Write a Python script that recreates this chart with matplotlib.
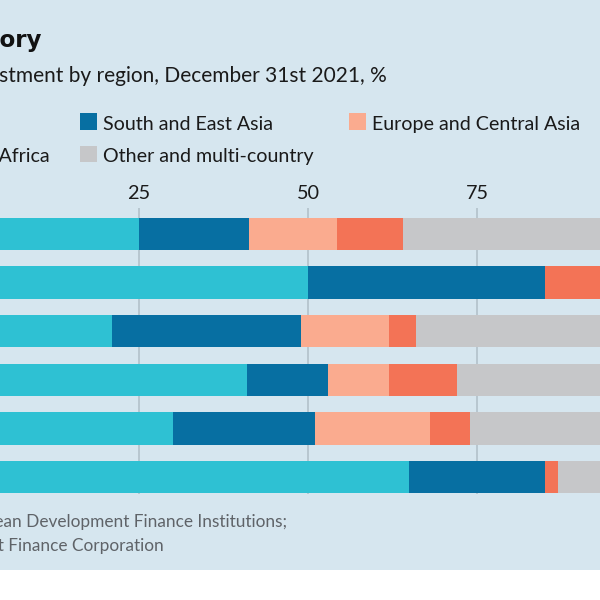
import numpy as np
import matplotlib
matplotlib.use('Agg')
import matplotlib.pyplot as plt
from matplotlib.patches import Rectangle

# share of investment by region, % (rows top to bottom, left part cut off in the original)
regions = ['Sub-Saharan Africa', 'South and East Asia', 'Europe and Central Asia',
           'Middle East and North Africa', 'Other and multi-country']
ssafrica = [25, 50, 21, 41, 30, 65]
seasia = [16.3, 35, 28, 12, 21, 20]
europe = [13, 0, 13, 9, 17, 0]
mena = [9.7, 15, 4, 10, 6, 2]
other = [36, 0, 34, 28, 26, 13]
ticks = [0, 25, 50, 75, 100]

colors = ['#2ec1d3', '#076fa2', '#faab8f', '#f37356', '#c6c7c9']
bg = '#d6e6ef'

plt.rcParams['font.family'] = ['Lato', 'DejaVu Sans']

fig = plt.figure(figsize=(6, 6), dpi=100, facecolor=bg)

def px(x, y):
    # pixel position -> figure fraction
    return x / 600, 1 - y / 600

# axes extend past both edges, like the cropped original
ax = fig.add_axes([-30 / 600, 1 - 494.3 / 600, 676 / 600, 286.3 / 600])
ax.set_facecolor(bg)
rows = np.arange(len(ssafrica))
left = np.zeros(len(rows))
for vals, c in zip([ssafrica, seasia, europe, mena, other], colors):
    ax.barh(rows, vals, left=left, height=0.665, color=c, linewidth=0, zorder=3)
    left += np.array(vals)

ax.set_xlim(0, 100)
ax.set_ylim(5.356, -0.535)
ax.set_xticks(ticks)
ax.set_xticklabels([str(t) for t in ticks], fontsize=14.3, color='#1a1a1a')
ax.xaxis.tick_top()
ax.tick_params(axis='x', length=0, pad=4.5)
ax.set_yticks([])
ax.grid(axis='x', color='#b3c1ca', linewidth=1.2, zorder=0)
for s in ax.spines.values():
    s.set_visible(False)

# title and subtitle (left part cut off)
x, y = px(42, 46.7)
fig.text(x, y, 'Territory', ha='right', va='baseline', fontsize=16.6, fontweight='bold',
         family='DejaVu Sans', color='#121212')
x, y = px(386.7, 82)
fig.text(x, y, 'Investment by region, December 31st 2021, %', ha='right', va='baseline',
         fontsize=15, color='#1a1a1a')

# legend, drawn by hand
legend_items = [
    (regions[0], colors[0], -215, 130, 'left'),
    (regions[1], colors[1], 80, 130, 'left'),
    (regions[2], colors[2], 349, 130, 'left'),
    (regions[3], colors[3], 49.3, 162.3, 'right'),
    (regions[4], colors[4], 80, 162.3, 'left'),
]
for name, c, lx, ly, ha in legend_items:
    if ha == 'left':
        fig.patches.append(Rectangle(px(lx, ly), 16.7 / 600, 16.7 / 600, transform=fig.transFigure,
                                     facecolor=c, linewidth=0))
        x, y = px(lx + 23.3, ly)
        fig.text(x, y, name, ha='left', va='baseline', fontsize=14.1, color='#1a1a1a')
    else:
        x, y = px(lx, ly)
        fig.text(x, y, name, ha='right', va='baseline', fontsize=14.1, color='#1a1a1a')

# source
x, y = px(287, 527)
fig.text(x, y, 'Sources: Association of European Development Finance Institutions;', ha='right',
         va='baseline', fontsize=12.4, color='#5f6368')
x, y = px(164, 551)
fig.text(x, y, 'US International Development Finance Corporation', ha='right', va='baseline',
         fontsize=12.4, color='#5f6368')

# white strip at the bottom
fig.patches.append(Rectangle((0, 0), 1, 30 / 600, transform=fig.transFigure,
                             facecolor='white', linewidth=0))

fig.savefig('out.png', dpi=100, facecolor=bg)
